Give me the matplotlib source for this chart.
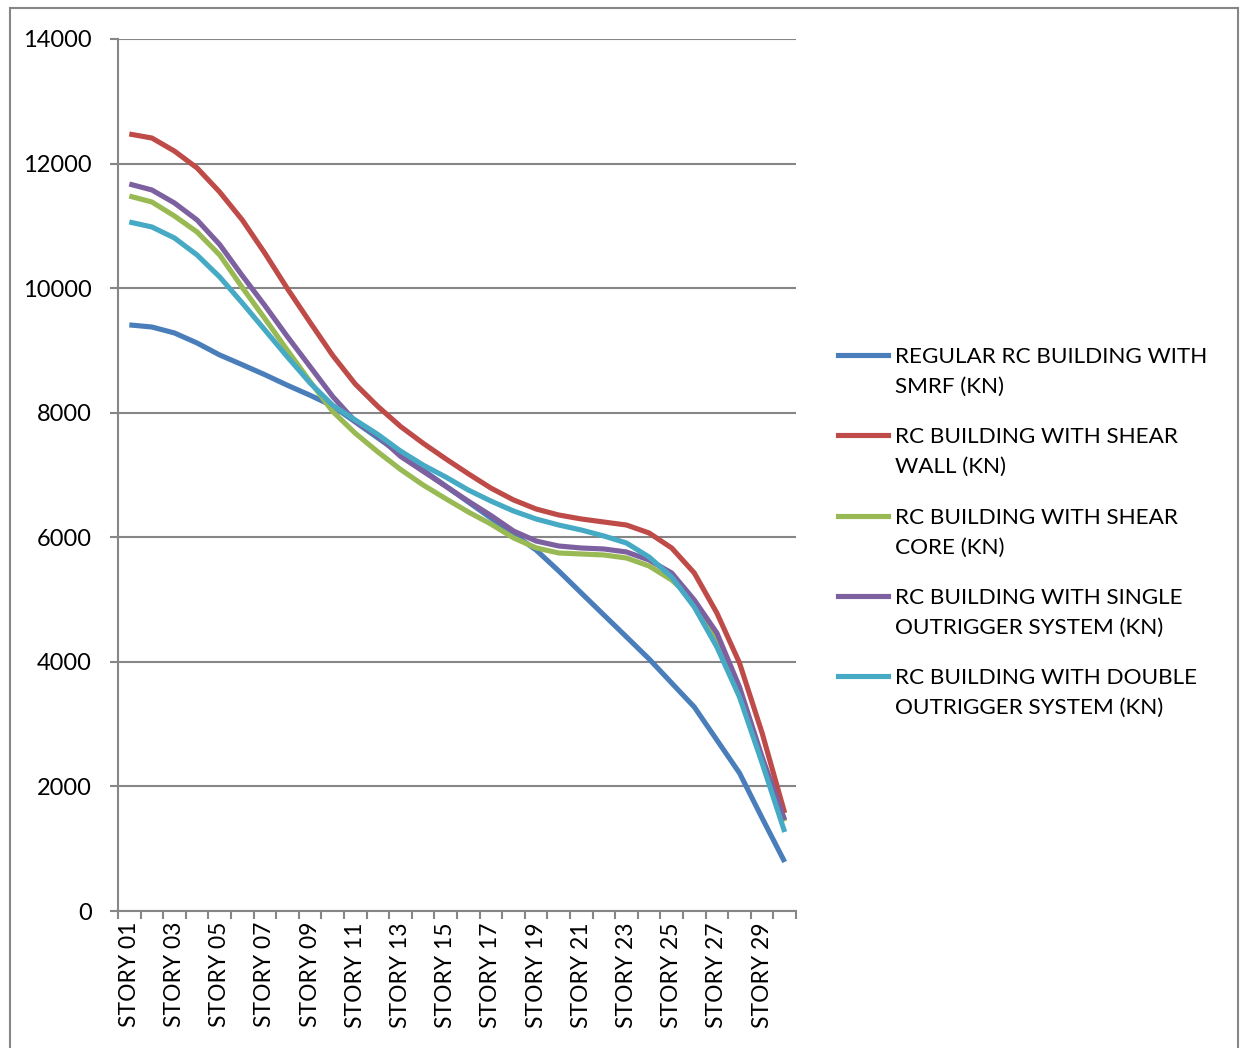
import numpy as np
import matplotlib
matplotlib.use("Agg")
import matplotlib.pyplot as plt
from matplotlib.lines import Line2D
from matplotlib.patches import Rectangle

plt.rcParams['font.family'] = ['Lato', 'DejaVu Sans']

stories = ["STORY %02d" % i for i in range(1, 31)]

smrf = [9410, 9376, 9280, 9119, 8927, 8770, 8610, 8440, 8280, 8108,
        7851, 7594, 7337, 7080, 6823, 6566, 6309, 6052, 5796, 5460,
        5105, 4752, 4400, 4046, 3660, 3275, 2745, 2215, 1493, 787]
shear_wall = [12475, 12410, 12200, 11929, 11543, 11094, 10560, 9990, 9450, 8920,
              8460, 8100, 7780, 7510, 7260, 7020, 6790, 6600, 6454, 6358,
              6294, 6245, 6197, 6069, 5828, 5427, 4784, 3982, 2858, 1573]
shear_core = [11479, 11383, 11158, 10901, 10532, 10010, 9510, 9000, 8500, 8020,
              7670, 7370, 7090, 6840, 6620, 6406, 6213, 5990, 5830, 5748,
              5732, 5716, 5667, 5539, 5314, 4980, 4330, 3480, 2420, 1440]
single_out = [11672, 11576, 11367, 11094, 10700, 10200, 9720, 9220, 8740, 8260,
              7860, 7630, 7300, 7060, 6820, 6580, 6350, 6101, 5940, 5860,
              5828, 5812, 5764, 5635, 5427, 4993, 4463, 3596, 2472, 1461]
double_out = [11062, 10982, 10805, 10532, 10179, 9761, 9328, 8894, 8477, 8120,
              7883, 7650, 7385, 7160, 6968, 6759, 6582, 6422, 6294, 6197,
              6117, 6021, 5908, 5683, 5362, 4881, 4238, 3436, 2376, 1268]

labels = ["REGULAR RC BUILDING WITH\nSMRF (KN)",
          "RC BUILDING WITH SHEAR\nWALL (KN)",
          "RC BUILDING WITH SHEAR\nCORE (KN)",
          "RC BUILDING WITH SINGLE\nOUTRIGGER SYSTEM (KN)",
          "RC BUILDING WITH DOUBLE\nOUTRIGGER SYSTEM (KN)"]
colors = ["#4A7EBB", "#BE4B48", "#98B954", "#7D60A0", "#46AAC5"]
series = [smrf, shear_wall, shear_core, single_out, double_out]

W, H = 1241, 1048
fig = plt.figure(figsize=(W / 100, H / 100), dpi=100)
ax = fig.add_axes([118 / W, 1 - 911 / H, (796 - 118) / W, (911 - 39) / H])

gray = "#868686"
x = np.arange(len(stories))
for vals, c in zip(series, colors):
    ax.plot(x, vals, color=c, lw=3.7, solid_joinstyle='round', solid_capstyle='butt', zorder=3)

ax.set_xlim(-0.5, len(stories) - 0.5)
ax.set_ylim(0, 14000)
ax.set_yticks(np.arange(0, 14001, 2000))
ax.yaxis.grid(True, color=gray, lw=1.5)
ax.set_axisbelow(True)
for s in ['top', 'right']:
    ax.spines[s].set_visible(False)
for s in ['left', 'bottom']:
    ax.spines[s].set_color(gray)
    ax.spines[s].set_linewidth(1.5)

ax.set_xticks(x[::2])
ax.set_xticklabels(stories[::2], rotation=90, fontsize=16.5)
ax.set_xticks(np.arange(-0.5, len(stories)), minor=True)
ax.tick_params(axis='x', which='major', length=0, pad=8)
ax.tick_params(axis='x', which='minor', length=6, width=1.5, color=gray)
ax.tick_params(axis='y', length=6, width=1.5, color=gray, labelsize=17, pad=13)

# legend drawn by hand so the sample line sits on the first text row
ys = [355, 435, 516, 596, 676]
for yy, c, lab in zip(ys, colors, labels):
    fig.add_artist(Line2D([838 / W, 888 / W], [1 - yy / H, 1 - yy / H], color=c, lw=3.7))
    fig.text(895 / W, 1 - (yy - 8) / H, lab, fontsize=16.2, va='top', ha='left', linespacing=1.62)

fig.add_artist(Rectangle((10 / W, 1 - 1060 / H), (1238 - 10) / W, (1060 - 8) / H,
                         fill=False, edgecolor=gray, lw=1.5))

fig.savefig("out.png", dpi=100)
